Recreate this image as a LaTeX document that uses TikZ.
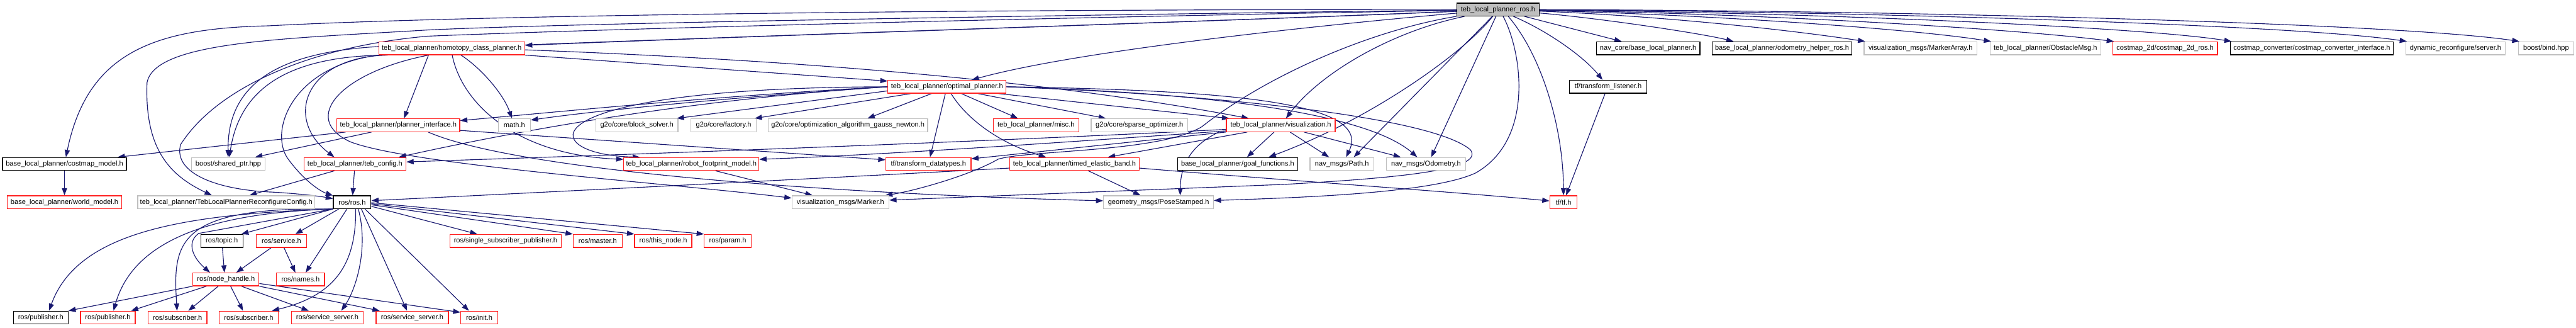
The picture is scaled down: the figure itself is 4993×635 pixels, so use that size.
\documentclass[tikz,border=0pt]{standalone}
\usepackage{fontspec}
\setmainfont{Liberation Sans}
\usetikzlibrary{arrows.meta}
\definecolor{edgeblue}{HTML}{191970}
\definecolor{boxgray}{HTML}{BFBFBF}
\definecolor{boxred}{HTML}{FF2020}
\pgfdeclarelayer{edgelayer}
\pgfsetlayers{edgelayer,main}
\tikzset{
  nbase/.style={rectangle, minimum height=25pt, inner sep=0pt, line width=1.5pt, fill=white, font=\fontsize{13.5}{15}\selectfont},
  rbox/.style={nbase, draw=boxred},
  gbox/.style={nbase, draw=boxgray},
  kbox/.style={nbase, draw=black},
  rootbox/.style={nbase, draw=black, fill=boxgray},
  e/.style={draw=edgeblue, line width=1.4pt, -{Triangle[length=14pt,width=10pt]}},
}
\begin{document}
\begin{tikzpicture}[x=1pt,y=-1pt]
\useasboundingbox (0,0) rectangle (4993,635);
% row 0
\node[rootbox, minimum width=159pt] (root) at (2903.5,18.5) {teb\_local\_planner\_ros.h};
% row 1
\node[rbox, minimum width=283pt] (homotopy) at (875.5,93.5) {teb\_local\_planner/homotopy\_class\_planner.h};
\node[kbox, minimum width=201pt] (navcore) at (3194.5,93.5) {nav\_core/base\_local\_planner.h};
\node[kbox, minimum width=270pt] (odomhelper) at (3454,93.5) {base\_local\_planner/odometry\_helper\_ros.h};
\node[gbox, minimum width=219pt] (markerarray) at (3722.5,93.5) {visualization\_msgs/MarkerArray.h};
\node[gbox, minimum width=215pt] (obstaclemsg) at (3964.5,93.5) {teb\_local\_planner/ObstacleMsg.h};
\node[rbox, minimum width=203pt] (costmap2d) at (4196.5,93.5) {costmap\_2d/costmap\_2d\_ros.h};
\node[kbox, minimum width=316pt] (converter) at (4481,93.5) {costmap\_converter/costmap\_converter\_interface.h};
\node[gbox, minimum width=193pt] (dynreconf) at (4759.5,93.5) {dynamic\_reconfigure/server.h};
\node[gbox, minimum width=108pt] (bind) at (4935,93.5) {boost/bind.hpp};
% row 2
\node[rbox, minimum width=229pt] (optimal) at (1835.5,168) {teb\_local\_planner/optimal\_planner.h};
\node[kbox, minimum width=150pt] (tflistener) at (3117,168) {tf/transform\_listener.h};
% row 3
\node[rbox, minimum width=238pt] (plannerif) at (772,242.5) {teb\_local\_planner/planner\_interface.h};
\node[gbox, minimum width=62pt] (math) at (997,242.5) {math.h};
\node[gbox, minimum width=159pt] (blocksolver) at (1234.5,242.5) {g2o/core/block\_solver.h};
\node[gbox, minimum width=127pt] (factory) at (1402.5,242.5) {g2o/core/factory.h};
\node[gbox, minimum width=309pt] (gauss) at (1643.5,242.5) {g2o/core/optimization\_algorithm\_gauss\_newton.h};
\node[rbox, minimum width=166pt] (misc) at (2008,242.5) {teb\_local\_planner/misc.h};
\node[gbox, minimum width=187pt] (sparse) at (2208.5,242.5) {g2o/core/sparse\_optimizer.h};
\node[rbox, minimum width=211pt] (vis) at (2482.5,242.5) {teb\_local\_planner/visualization.h};
% row 4
\node[kbox, minimum width=240pt] (costmapmodel) at (125,317.5) {base\_local\_planner/costmap\_model.h};
\node[gbox, minimum width=143pt] (sharedptr) at (442.5,317.5) {boost/shared\_ptr.hpp};
\node[rbox, minimum width=198pt] (tebconfig) at (688,317.5) {teb\_local\_planner/teb\_config.h};
\node[rbox, minimum width=262pt] (footprint) at (1340,317.5) {teb\_local\_planner/robot\_footprint\_model.h};
\node[rbox, minimum width=165pt] (tfdt) at (1799.5,317.5) {tf/transform\_datatypes.h};
\node[rbox, minimum width=251pt] (teb) at (2082.5,317.5) {teb\_local\_planner/timed\_elastic\_band.h};
\node[kbox, minimum width=232pt] (goalfn) at (2399,317.5) {base\_local\_planner/goal\_functions.h};
\node[gbox, minimum width=124pt] (path) at (2601,317.5) {nav\_msgs/Path.h};
\node[gbox, minimum width=154pt] (odometry) at (2764,317.5) {nav\_msgs/Odometry.h};
% row 5
\node[rbox, minimum width=222pt] (worldmodel) at (125,391.5) {base\_local\_planner/world\_model.h};
\node[gbox, minimum width=343pt] (reconfig) at (438.5,391.5) {teb\_local\_planner/TebLocalPlannerReconfigureConfig.h};
\node[kbox, minimum width=73pt] (rosh) at (682.5,391.5) {ros/ros.h};
\node[gbox, minimum width=188pt] (marker) at (1629,391.5) {visualization\_msgs/Marker.h};
\node[gbox, minimum width=213pt] (pose) at (2245.5,391.5) {geometry\_msgs/PoseStamped.h};
\node[rbox, minimum width=53pt] (tfh) at (3030.5,391.5) {tf/tf.h};
% row 6
\node[kbox, minimum width=82pt] (topic) at (430,466.5) {ros/topic.h};
\node[rbox, minimum width=97pt] (service) at (545.5,466.5) {ros/service.h};
\node[rbox, minimum width=216pt] (ssp) at (980,466.5) {ros/single\_subscriber\_publisher.h};
\node[rbox, minimum width=95pt] (master) at (1158.5,466.5) {ros/master.h};
\node[rbox, minimum width=111pt] (thisnode) at (1285.5,466.5) {ros/this\_node.h};
\node[rbox, minimum width=91pt] (param) at (1410.5,466.5) {ros/param.h};
% row 7
\node[rbox, minimum width=128pt] (nodehandle) at (438,541) {ros/node\_handle.h};
\node[rbox, minimum width=93pt] (names) at (582.5,541) {ros/names.h};
% row 8
\node[kbox, minimum width=106pt] (pub1) at (79,615) {ros/publisher.h};
\node[rbox, minimum width=106pt] (pub2) at (209,615) {ros/publisher.h};
\node[rbox, minimum width=114pt] (sub1) at (344,615) {ros/subscriber.h};
\node[rbox, minimum width=114pt] (sub2) at (482,615) {ros/subscriber.h};
\node[rbox, minimum width=139pt] (ss1) at (634.5,615) {ros/service\_server.h};
\node[rbox, minimum width=140pt] (ss2) at (799,615) {ros/service\_server.h};
\node[rbox, minimum width=72pt] (init) at (929,615) {ros/init.h};

\begin{pgfonlayer}{edgelayer}
% ---- root
\draw[e] (root) .. controls (2400,40) and (1500,68) .. (homotopy);
\draw[e] (root) .. controls (2400,40) and (1500,68) .. (1018,87) -- (736,90) .. controls (560,100) and (440,150) .. (sharedptr);
\draw[e] (root) .. controls (2600,45) and (2100,95) .. (optimal);
\draw[e] (root) .. controls (2700,60) and (2560,140) .. (vis);
\draw[e] (root) .. controls (2650,60) and (2450,150) .. (2330,245) .. controls (2250,295) and (2000,290) .. (1935,308) .. controls (1880,340) and (1770,370) .. (marker);
\draw[e] (root) .. controls (1800,18) and (900,30) .. (520,50) .. controls (300,55) and (170,100) .. (costmapmodel);
\draw[e] (root) .. controls (2000,30) and (1100,45) .. (830,58) .. controls (550,75) and (300,80) .. (285,160) .. controls (280,290) and (330,340) .. (reconfig);
\draw[e] (root) .. controls (2000,35) and (1200,55) .. (830,70) .. controls (600,90) and (420,170) .. (350,280) .. controls (335,335) and (420,368) .. (529,372) .. controls (580,375) and (620,380) .. (rosh);
\draw[e] ([xshift=-11pt]root.south) -- ([xshift=23pt]path.north);
\draw[e] ([xshift=-4pt]root.south) -- ([xshift=10pt]odometry.north);
\draw[e] ([xshift=10pt]root.south) .. controls (2950,100) and (2975,270) .. (2860,335) .. controls (2780,372) and (2550,382) .. (pose);
\draw[e] (root) .. controls (2840,100) and (2660,230) .. ([xshift=60pt]goalfn.north);
\draw[e] ([xshift=20pt]root.south) .. controls (2990,110) and (3030,250) .. (tfh);
\draw[e] ([xshift=30pt]root.south) .. controls (3000,60) and (3070,110) .. (tflistener);
\draw[e] (root) -- (navcore);
\draw[e] (root) .. controls (3100,35) and (3300,65) .. ([xshift=-94pt]odomhelper.north);
\draw[e] (root) .. controls (3200,30) and (3450,55) .. ([xshift=3pt]markerarray.north west);
\draw[e] (root) .. controls (3300,28) and (3700,55) .. ([xshift=3pt]obstaclemsg.north west);
\draw[e] (root) .. controls (3400,26) and (3900,55) .. ([xshift=3pt]costmap2d.north west);
\draw[e] (root) .. controls (3500,24) and (4150,52) .. ([xshift=3pt]converter.north west);
\draw[e] (root) .. controls (3600,22) and (4450,48) .. ([xshift=3pt]dynreconf.north west);
\draw[e] (root) .. controls (3700,20) and (4650,45) .. ([xshift=3pt]bind.north west);
% ---- homotopy
\draw[e] ([xshift=-45pt]homotopy.south) -- ([xshift=11pt]plannerif.north);
\draw[e] ([xshift=18pt]homotopy.south) .. controls (930,130) and (975,180) .. (math);
\draw[e] ([xshift=1pt]homotopy.south) .. controls (895,200) and (1000,300) .. ([yshift=9pt]footprint.west);
\draw[e] (homotopy.south east) -- ([yshift=11pt]optimal.west);
\draw[e] ([yshift=-3pt]homotopy.east) .. controls (1500,115) and (2000,150) .. ([xshift=-62pt]vis.north);
\draw[e] ([xshift=18pt]homotopy.south west) .. controls (590,110) and (550,230) .. ([xshift=-40pt]tebconfig.north);
\draw[e] (homotopy.south west) .. controls (560,130) and (520,260) .. (560,310) .. controls (590,350) and (620,370) .. (rosh);
\draw[e] ([xshift=18pt]homotopy.south west) .. controls (560,108) and (465,170) .. (sharedptr);
\draw[e] ([xshift=-45pt]homotopy.south) .. controls (660,140) and (580,230) .. (680,275) .. controls (800,320) and (1300,355) .. ([yshift=8pt]marker.west);
% ---- optimal
\draw[e] (optimal.west) .. controls (1400,185) and (1100,215) .. ([yshift=9pt]plannerif.east);
\draw[e] (optimal.west) .. controls (1400,190) and (1150,215) .. ([yshift=10pt]math.east);
\draw[e] (optimal.west) .. controls (1000,170) and (1040,300) .. ([xshift=-100pt]footprint.north);
\draw[e] ([yshift=-8pt]optimal.west) -- ([xshift=-3pt]blocksolver.north east);
\draw[e] ([xshift=-70pt]optimal.south) -- ([xshift=-4pt]factory.north east);
\draw[e] ([xshift=-30pt]optimal.south) -- ([xshift=38pt]gauss.north);
\draw[e] (optimal) -- (tfdt);
\draw[e] ([xshift=8pt]optimal.south) .. controls (1870,225) and (1930,275) .. ([xshift=-55pt]teb.north);
\draw[e] ([xshift=28pt]optimal.south) -- ([xshift=-35pt]misc.north);
\draw[e] ([xshift=60pt]optimal.south) -- ([xshift=-65pt]sparse.north);
\draw[e] ([xshift=100pt]optimal.south) -- ([xshift=-100pt]vis.north);
\draw[e] (optimal.west) .. controls (1300,195) and (950,265) .. ([xshift=85pt]tebconfig.north);
\draw[e] (optimal.east) .. controls (2400,175) and (2660,200) .. ([xshift=8pt]path.north);
\draw[e] (optimal.east) .. controls (2350,180) and (2650,220) .. ([xshift=-17pt]odometry.north);
\draw[e] (optimal.east) .. controls (2400,185) and (2780,230) .. (2850,290) .. controls (2880,330) and (2700,345) .. (2490,357) -- ([yshift=4pt]marker.east);
% ---- planner interface
\draw[e] ([xshift=-102pt]plannerif.south) -- ([xshift=103pt]costmapmodel.north);
\draw[e] ([xshift=-52pt]plannerif.south) -- ([xshift=52pt]sharedptr.north);
\draw[e] ([xshift=58pt]plannerif.south) .. controls (1000,330) and (1600,375) .. (pose);
\draw[e] ([yshift=-10pt]plannerif.east) -- ([yshift=8pt]tfdt.west);
% ---- visualization
\draw[e] ([yshift=-8pt]vis.west) .. controls (1900,275) and (1200,300) .. ([yshift=4pt]tebconfig.east);
\draw[e] ([yshift=-11pt]vis.west) .. controls (2000,280) and (1700,300) .. ([yshift=9pt]footprint.east);
\draw[e] (vis.south west) -- ([yshift=10pt]tfdt.east);
\draw[e] ([xshift=-120pt]vis.south) .. controls (2300,285) and (2288,330) .. ([xshift=42pt]pose.north);
\draw[e] ([xshift=-65pt]vis.south) -- ([xshift=65pt]teb.north);
\draw[e] ([xshift=-13pt]vis.south) -- ([xshift=18pt]goalfn.north);
\draw[e] ([xshift=18pt]vis.south) -- ([xshift=-25pt]path.north);
\draw[e] ([xshift=45pt]vis.south) -- ([xshift=-49pt]odometry.north);
% ---- footprint, teb, config, misc
\draw[e] ([xshift=47pt]footprint.south) -- ([xshift=-54pt]marker.north);
\draw[e] ([yshift=-8pt]teb.west) .. controls (1600,345) and (1000,375) .. ([yshift=3pt]rosh.east);
\draw[e] ([xshift=27pt]teb.south) -- ([xshift=-35pt]pose.north);
\draw[e] ([yshift=-8pt]teb.east) .. controls (2500,350) and (2800,370) .. (tfh);
\draw[e] (tebconfig) -- (rosh);
\draw[e] ([xshift=-40pt]tebconfig.south) -- ([xshift=45pt]reconfig.north);
\draw[e] (costmapmodel) -- (worldmodel);
\draw[e] ([xshift=-6pt]tflistener.south) -- ([xshift=5pt]tfh.north);
% ---- ros.h
\draw[e] (rosh.south west) .. controls (350,415) and (150,450) .. ([xshift=16pt]pub1.north);
\draw[e] (rosh.south west) .. controls (420,412) and (260,460) .. ([xshift=11pt]pub2.north);
\draw[e] (rosh.south west) .. controls (340,400) and (335,470) .. (sub1);
\draw[e] ([xshift=7pt]rosh.south) .. controls (690,500) and (660,570) .. ([xshift=45pt]sub2.north);
\draw[e] ([xshift=12pt]rosh.south) .. controls (715,480) and (690,560) .. ([xshift=27pt]ss1.north);
\draw[e] ([xshift=18pt]rosh.south) -- ([xshift=-10pt]ss2.north);
\draw[e] ([xshift=25pt]rosh.south) -- ([xshift=-20pt]init.north);
\draw[e] (rosh.south west) -- ([xshift=-4pt]topic.north east);
\draw[e] ([xshift=-26pt]rosh.south) -- ([xshift=27pt]service.north);
\draw[e] ([xshift=-10pt]rosh.south) -- ([xshift=10pt]names.north);
\draw[e] (rosh.south west) -- (385,452) .. controls (360,470) and (375,500) .. ([xshift=-31pt]nodehandle.north);
\draw[e] ([yshift=-8pt]rosh.east) -- ([xshift=-55pt]ssp.north);
\draw[e] ([yshift=-5pt]rosh.east) -- (master.north west);
\draw[e] ([yshift=-3pt]rosh.east) -- (thisnode.north west);
\draw[e] ([yshift=-1pt]rosh.east) -- (param.north west);
% ---- topic, service
\draw[e] (topic) -- ([xshift=-3pt]nodehandle.north);
\draw[e] ([xshift=-20pt]service.south) -- ([xshift=20pt]nodehandle.north);
\draw[e] ([xshift=5pt]service.south) -- ([xshift=-10pt]names.north);
% ---- node_handle
\draw[e] (nodehandle.south west) -- (pub1.north east);
\draw[e] ([xshift=-38pt]nodehandle.south) -- ([xshift=45pt]pub2.north);
\draw[e] ([xshift=-15pt]nodehandle.south) -- ([xshift=21pt]sub1.north);
\draw[e] ([xshift=9pt]nodehandle.south) -- ([xshift=-11pt]sub2.north);
\draw[e] ([xshift=30pt]nodehandle.south) -- ([xshift=-36pt]ss1.north);
\draw[e] (nodehandle.south east) -- ([xshift=-63pt]ss2.north);
\draw[e] ([yshift=-8pt]nodehandle.east) -- ([yshift=-3pt]init.north west);
\end{pgfonlayer}
\end{tikzpicture}
\end{document}
